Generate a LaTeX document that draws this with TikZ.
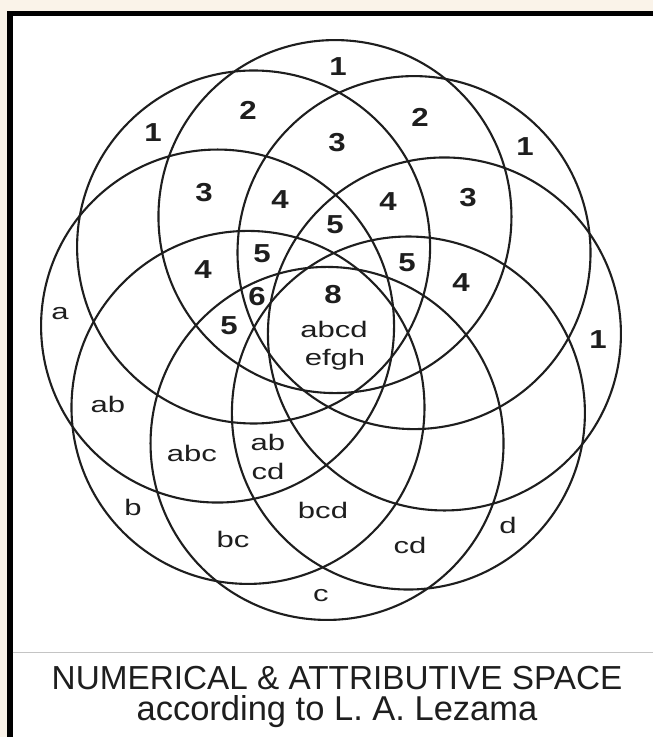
\documentclass[tikz,border=0pt]{standalone}
\usepackage{fontspec}
\setmainfont{Liberation Sans}
\definecolor{cream}{HTML}{FAF3E9}
\definecolor{ink}{HTML}{1E1E1E}
\definecolor{rulegray}{HTML}{C4C4C4}
\newcommand{\wideN}[1]{\scalebox{1.2}[1]{#1}}
\newcommand{\wideL}[1]{\scalebox{1.38}[1]{#1}}
\tikzset{
  ring/.style={draw=ink, line width=2.1pt},
  num/.style={font=\fontsize{26}{26}\bfseries, text=ink, inner sep=0pt, anchor=center},
  lett/.style={font=\fontsize{22.5}{28}\selectfont, text=ink, inner sep=0pt, anchor=base},
  captxt/.style={text=ink, inner sep=0pt, anchor=base}
}
\begin{document}
\begin{tikzpicture}[x=1pt,y=-1pt]
\useasboundingbox (0,0) rectangle (653,737);
% background and frame
\fill[cream] (0,0) rectangle (653,737);
\fill[white] (12.5,16) rectangle (653,737);
\fill[black] (7,11) rectangle (653,16);
\fill[black] (7,11) rectangle (12.5,737);
\draw[rulegray, line width=1pt] (12.5,652) -- (653,652);
% circles
\coordinate (O) at (331,330);
\foreach \k in {0,...,7}{
  \path (O) ++({-88+45*\k}:113.5) coordinate (c\k);
  \draw[ring] (c\k) circle[radius=176.5pt];
}
% numbers
\node[num] (n1t) at (338,67) {\wideN{1}};
\node[num] (n2l) at (248,110) {\wideN{2}};
\node[num] (n2r) at (420,117) {\wideN{2}};
\node[num] (n1ul) at (153,133) {\wideN{1}};
\node[num] (n1ur) at (525,147) {\wideN{1}};
\node[num] (n3t) at (337,143) {\wideN{3}};
\node[num] (n3l) at (204,193) {\wideN{3}};
\node[num] (n4ul) at (280,200) {\wideN{4}};
\node[num] (n4ur) at (388,202) {\wideN{4}};
\node[num] (n3r) at (468,198) {\wideN{3}};
\node[num] (n5t) at (335,225) {\wideN{5}};
\node[num] (n4ll) at (203,270) {\wideN{4}};
\node[num] (n5l) at (262,254) {\wideN{5}};
\node[num] (n5r) at (407,263) {\wideN{5}};
\node[num] (n4lr) at (461,283) {\wideN{4}};
\node[num] (n6) at (257,297) {\wideN{6}};
\node[num] (n8) at (333,295) {\wideN{8}};
\node[num] (n5ll) at (229,326) {\wideN{5}};
\node[num] (n1r) at (598,340) {\wideN{1}};
% letters
\node[lett] (la) at (60,319) {\wideL{a}};
\node[lett] (lab1) at (108,412) {\wideL{ab}};
\node[lett] (labc) at (192,461) {\wideL{abc}};
\node[lett] (lab2) at (268,450) {\wideL{ab}};
\node[lett] (lcd2) at (268,479) {\wideL{cd}};
\node[lett] (lb) at (133,515) {\wideL{b}};
\node[lett] (lbc) at (233,547) {\wideL{bc}};
\node[lett] (lbcd) at (323,518) {\wideL{bcd}};
\node[lett] (lcd) at (410,553) {\wideL{cd}};
\node[lett] (ld) at (508,533) {\wideL{d}};
\node[lett] (lc) at (321,601) {\wideL{c}};
\node[lett] (labcd) at (334,337) {\wideL{abcd}};
\node[lett] (lefgh) at (335,365) {\wideL{efgh}};
% caption
\node[captxt, font=\fontsize{33.3}{34}\selectfont] (cap1) at (337,689) {NUMERICAL \& ATTRIBUTIVE SPACE};
\node[captxt, font=\fontsize{34.5}{35}\selectfont] (cap2) at (337,720) {according to L. A. Lezama};
\end{tikzpicture}
\end{document}
